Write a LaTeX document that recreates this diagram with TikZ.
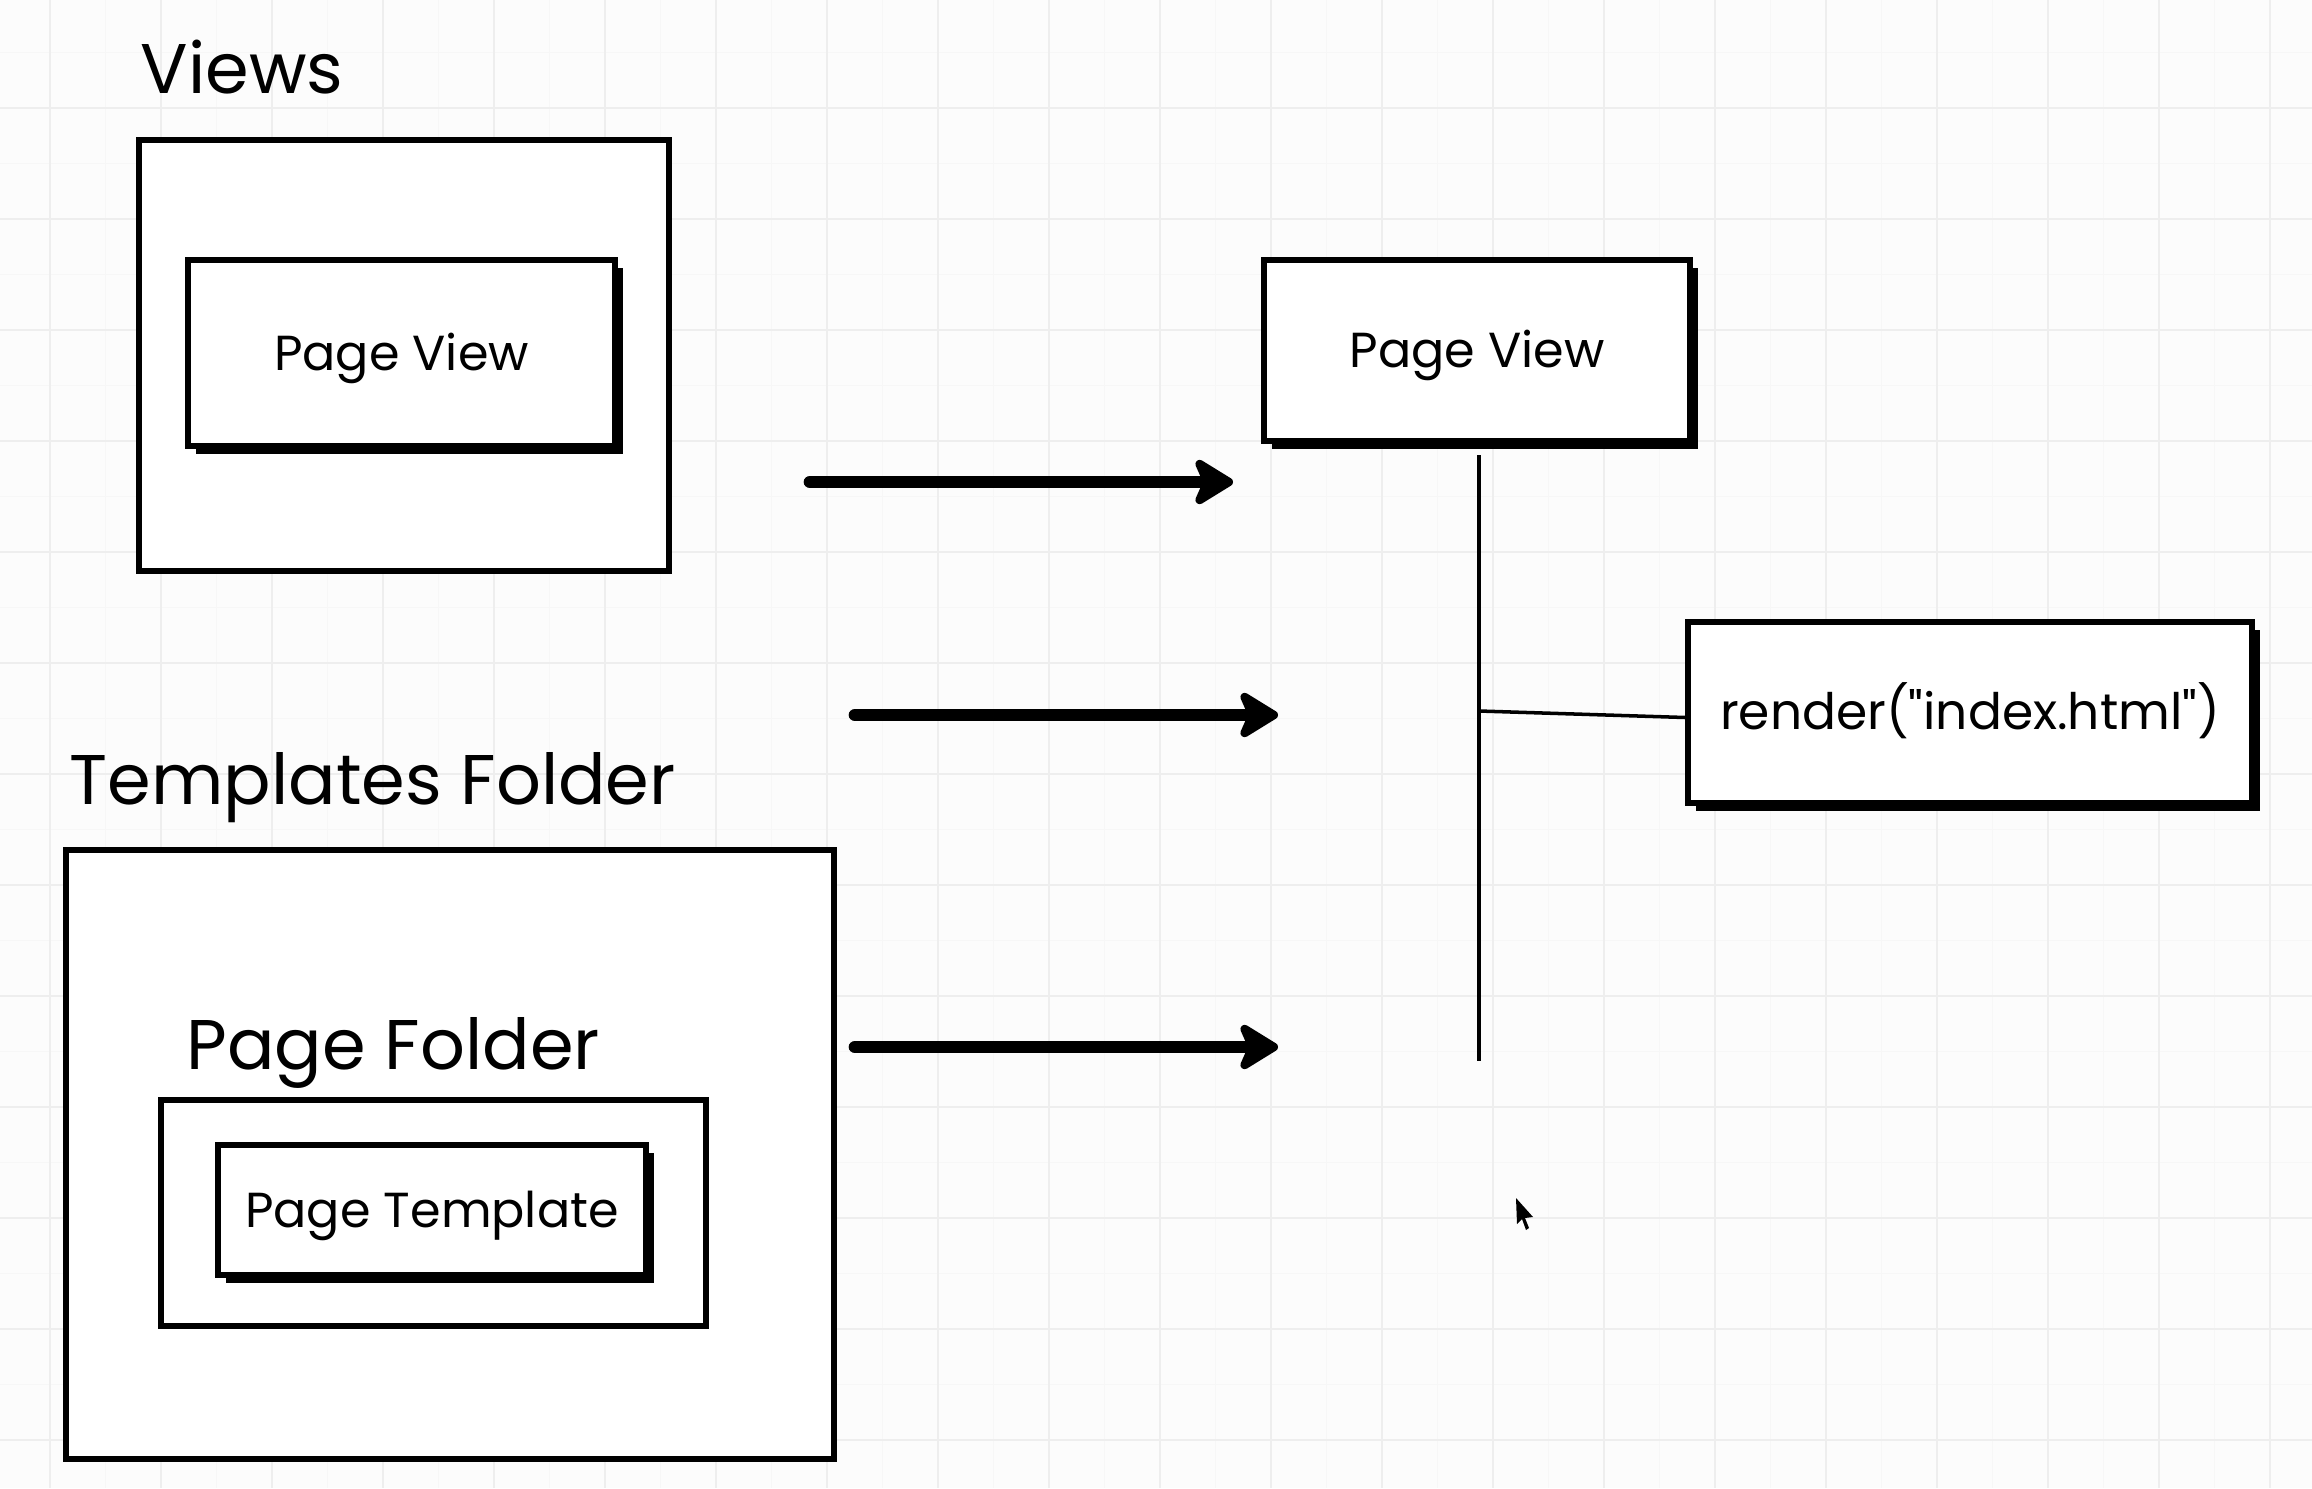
\documentclass[tikz,border=0pt]{standalone}
\usepackage{fontspec}
\setmainfont{Poppins}[Ligatures=TeXOff]
\usetikzlibrary{arrows.meta,shadows}

\definecolor{paper}{HTML}{FCFCFC}
\definecolor{gridline}{HTML}{EEEEEE}
\definecolor{gridfaint}{HTML}{F7F7F7}

\tikzset{
    folder/.style={draw=black, line width=1.7pt, fill=white, inner sep=0pt},
    card/.style={folder, drop shadow={shadow xshift=0.08cm, shadow yshift=-0.08cm, opacity=1, fill=black}, font=\fontsize{14}{16}\selectfont, text height=0.40cm, text depth=0.06cm},
    heading/.style={anchor=base west, inner sep=0pt, font=\fontsize{20}{24}\selectfont},
    flow/.style={-{Stealth[length=0.46cm, width=0.56cm, inset=0.12cm, round]}, line width=3.6pt, line cap=round},
    link/.style={line width=1pt}
}

\begin{document}
\begin{tikzpicture}
    \useasboundingbox[fill=paper] (0,0) rectangle (23.12,14.88);
    % paper grid
    \foreach \i in {0,...,20} \draw[gridfaint, line width=0.5pt] (1.055+1.11*\i,0) -- (1.055+1.11*\i,14.88);
    \foreach \i in {0,...,12} \draw[gridfaint, line width=0.5pt] (0,14.355-1.11*\i) -- (23.12,14.355-1.11*\i);
    \foreach \i in {0,...,20} \draw[gridline, line width=0.6pt] (0.50+1.11*\i,0) -- (0.50+1.11*\i,14.88);
    \foreach \i in {0,...,13} \draw[gridline, line width=0.6pt] (0,14.91-1.11*\i) -- (23.12,14.91-1.11*\i);

    % views
    \node[folder, minimum width=5.30cm, minimum height=4.31cm] (views) at (4.04,11.325) {};
    \node[heading] (viewstitle) at (1.40,13.94) {Views};
    \node[card, minimum width=4.27cm, minimum height=1.86cm] (pageview) at (4.015,11.35) {Page View};

    % templates
    \node[folder, minimum width=7.68cm, minimum height=6.09cm] (templates) at (4.50,3.335) {};
    \node[heading] (templatestitle) at (0.69,6.84) {Templates Folder};
    \node[folder, minimum width=5.45cm, minimum height=2.26cm] (pagefolder) at (4.335,2.75) {};
    \node[heading] (pagefoldertitle) at (1.86,4.19) {Page Folder};
    \node[card, minimum width=4.28cm, minimum height=1.30cm] (template) at (4.32,2.78) {Page Template};

    % right side
    \node[card, minimum width=4.26cm, minimum height=1.81cm] (pageviewR) at (14.77,11.375) {Page View};
    \node[card, minimum width=5.64cm, minimum height=1.81cm, font=\fontsize{14.3}{16}\selectfont] (render) at (19.70,7.755) {render("index.html")};

    \coordinate (a1s) at (8.10,10.06);
    \coordinate (a1e) at (12.33,10.06);
    \coordinate (a2s) at (8.55,7.73);
    \coordinate (a2e) at (12.78,7.73);
    \coordinate (a3s) at (8.55,4.41);
    \coordinate (a3e) at (12.78,4.41);
    \draw[flow] (a1s) -- (a1e);
    \draw[flow] (a2s) -- (a2e);
    \draw[flow] (a3s) -- (a3e);

    \coordinate (stemtop) at (14.79,10.33);
    \coordinate (stembot) at (14.79,4.27);
    \coordinate (branch) at (14.79,7.77);
    \draw[link] (stemtop) -- (stembot);
    \draw[link] (branch) -- ([yshift=-0.05cm]render.west);

    % pointer
    \fill (15.16,2.90) -- (15.17,2.64) -- (15.22,2.69) -- (15.26,2.58) -- (15.29,2.60) -- (15.25,2.70) -- (15.33,2.71) -- cycle;
\end{tikzpicture}
\end{document}
